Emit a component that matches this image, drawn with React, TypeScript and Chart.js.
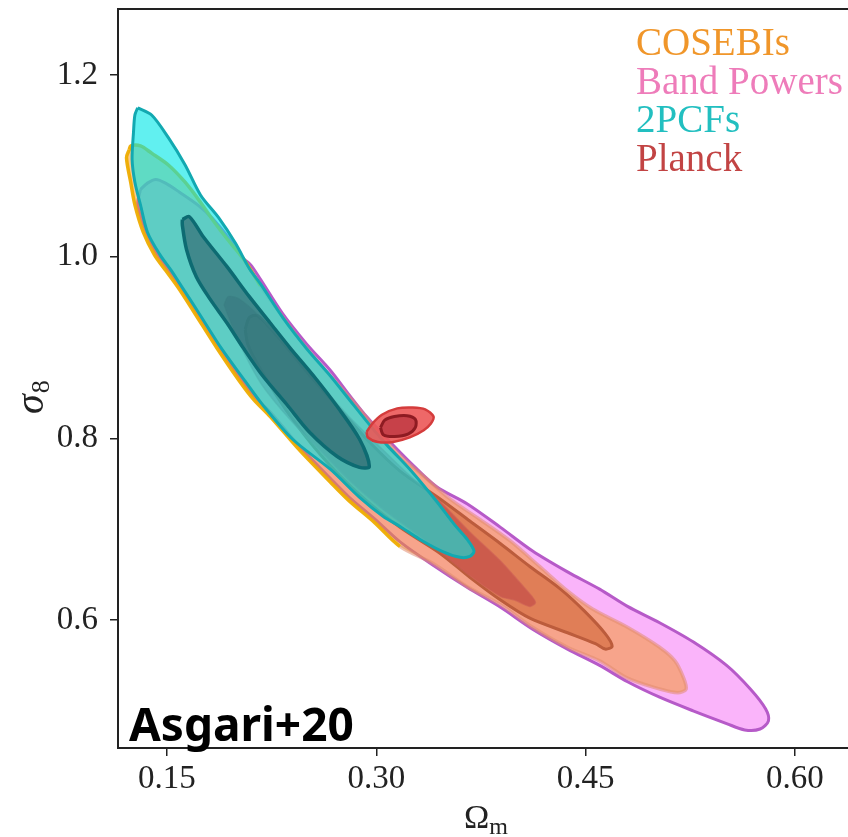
import React, { useEffect, useRef } from 'react';
import { Chart, registerables } from 'chart.js';

Chart.register(...registerables);

// ---- axis ticks / labels ----
const xTicks = [0.15, 0.3, 0.45, 0.6];
const yTicks = [0.6, 0.8, 1.0, 1.2];
const xRange = [0.1149, 0.638];
const yRange = [0.4591, 1.2727];

const legendLabels = ['COSEBIs', 'Band Powers', '2PCFs', 'Planck'];
const legendColors = ['#f0962a', '#ee7cba', '#22bfc0', '#c24444'];
const annotationText = 'Asgari+20';

// ---- contour outlines (Omega_m, sigma_8) ----
const bandPowersOuter = [
  [0.131, 1.074], [0.136, 1.081], [0.142, 1.085], [0.149, 1.081], [0.159, 1.071], [0.172, 1.057],
  [0.182, 1.043], [0.195, 1.019], [0.204, 0.999], [0.210, 0.991], [0.217, 0.975], [0.233, 0.937],
  [0.250, 0.904], [0.267, 0.875], [0.281, 0.847], [0.293, 0.824], [0.308, 0.799], [0.324, 0.774],
  [0.343, 0.747], [0.365, 0.728], [0.389, 0.702], [0.412, 0.676], [0.437, 0.653], [0.460, 0.634],
  [0.480, 0.615], [0.503, 0.597], [0.527, 0.576], [0.551, 0.550], [0.568, 0.524], [0.579, 0.502],
  [0.581, 0.489], [0.575, 0.480], [0.564, 0.479], [0.551, 0.486], [0.527, 0.500], [0.503, 0.515],
  [0.480, 0.532], [0.460, 0.550], [0.437, 0.568], [0.412, 0.590], [0.389, 0.614], [0.365, 0.636],
  [0.341, 0.660], [0.317, 0.686], [0.299, 0.711], [0.280, 0.736], [0.267, 0.756], [0.245, 0.791],
  [0.224, 0.829], [0.212, 0.847], [0.202, 0.867], [0.186, 0.903], [0.169, 0.944], [0.158, 0.970],
  [0.149, 0.990], [0.141, 1.008], [0.134, 1.032], [0.129, 1.057],
];

const bandPowersInner = [
  [0.206, 0.920], [0.209, 0.933], [0.215, 0.935], [0.231, 0.909], [0.252, 0.870], [0.274, 0.832],
  [0.295, 0.796], [0.317, 0.764], [0.346, 0.733], [0.367, 0.709], [0.389, 0.684], [0.410, 0.659],
  [0.432, 0.634], [0.449, 0.610], [0.464, 0.585], [0.469, 0.571], [0.464, 0.568], [0.457, 0.574],
  [0.437, 0.586], [0.410, 0.602], [0.389, 0.622], [0.367, 0.647], [0.346, 0.673], [0.317, 0.702],
  [0.288, 0.738], [0.260, 0.782], [0.235, 0.832], [0.217, 0.876], [0.208, 0.903],
];

const cosebisOuter = [
  [0.123, 1.118], [0.124, 1.122], [0.131, 1.122], [0.139, 1.114], [0.151, 1.101], [0.163, 1.082],
  [0.174, 1.060], [0.184, 1.038], [0.195, 1.016], [0.206, 0.995], [0.217, 0.968], [0.227, 0.946],
  [0.245, 0.909], [0.263, 0.876], [0.281, 0.845], [0.299, 0.812], [0.317, 0.781], [0.335, 0.757],
  [0.353, 0.733], [0.374, 0.711], [0.396, 0.687], [0.417, 0.659], [0.437, 0.632], [0.455, 0.612],
  [0.480, 0.592], [0.503, 0.570], [0.514, 0.555], [0.520, 0.537], [0.522, 0.524], [0.516, 0.520],
  [0.503, 0.524], [0.480, 0.536], [0.460, 0.555], [0.437, 0.570], [0.412, 0.592], [0.389, 0.617],
  [0.365, 0.637], [0.341, 0.662], [0.317, 0.681], [0.299, 0.707], [0.280, 0.732], [0.267, 0.752],
  [0.245, 0.787], [0.224, 0.824], [0.212, 0.843], [0.202, 0.863], [0.186, 0.899], [0.169, 0.940],
  [0.158, 0.966], [0.149, 0.985], [0.141, 1.002], [0.133, 1.027], [0.127, 1.057], [0.124, 1.082],
  [0.121, 1.109],
];

const cosebisInner = [
  [0.191, 0.947], [0.194, 0.956], [0.202, 0.953], [0.217, 0.933], [0.238, 0.898], [0.260, 0.859],
  [0.281, 0.823], [0.303, 0.790], [0.324, 0.759], [0.346, 0.730], [0.367, 0.697], [0.389, 0.665],
  [0.403, 0.641], [0.412, 0.625], [0.414, 0.619], [0.410, 0.615], [0.399, 0.622], [0.389, 0.626],
  [0.367, 0.649], [0.346, 0.675], [0.324, 0.700], [0.303, 0.724], [0.281, 0.753], [0.260, 0.786],
  [0.238, 0.821], [0.218, 0.859], [0.204, 0.898], [0.195, 0.931],
];

const pcfOuter = [
  [0.129, 1.164], [0.139, 1.156], [0.151, 1.131], [0.163, 1.101], [0.174, 1.068], [0.187, 1.043],
  [0.199, 1.015], [0.209, 0.987], [0.217, 0.970], [0.233, 0.933], [0.250, 0.899], [0.267, 0.869],
  [0.281, 0.842], [0.293, 0.819], [0.308, 0.792], [0.324, 0.766], [0.343, 0.731], [0.356, 0.705],
  [0.365, 0.689], [0.370, 0.676], [0.367, 0.670], [0.360, 0.669], [0.348, 0.675], [0.331, 0.689],
  [0.317, 0.703], [0.305, 0.714], [0.288, 0.735], [0.267, 0.766], [0.240, 0.799], [0.218, 0.838],
  [0.206, 0.863], [0.189, 0.899], [0.172, 0.940], [0.161, 0.966], [0.153, 0.985], [0.145, 1.002],
  [0.136, 1.027], [0.131, 1.057], [0.127, 1.082], [0.125, 1.107], [0.126, 1.137], [0.127, 1.156],
];

const pcfInner = [
  [0.161, 1.041], [0.166, 1.044], [0.176, 1.022], [0.193, 0.989], [0.209, 0.956], [0.224, 0.927],
  [0.238, 0.900], [0.256, 0.867], [0.272, 0.835], [0.288, 0.799], [0.295, 0.769], [0.288, 0.768],
  [0.272, 0.780], [0.252, 0.807], [0.236, 0.837], [0.218, 0.870], [0.204, 0.901], [0.193, 0.927],
  [0.181, 0.953], [0.171, 0.978], [0.164, 1.008], [0.161, 1.035],
];

const planckOuter = [
  [0.293, 0.807], [0.297, 0.816], [0.304, 0.826], [0.315, 0.833], [0.326, 0.834], [0.335, 0.832],
  [0.341, 0.824], [0.339, 0.816], [0.334, 0.809], [0.324, 0.801], [0.312, 0.796], [0.301, 0.796],
  [0.294, 0.801],
];

const planckInner = [
  [0.303, 0.812], [0.306, 0.820], [0.313, 0.824], [0.322, 0.825], [0.328, 0.821], [0.328, 0.812],
  [0.323, 0.805], [0.313, 0.802], [0.305, 0.804],
];

const toPoints = (pts: number[][]) => [...pts, pts[0]].map(([x, y]) => ({ x, y }));

function contour(label: string, pts: number[][], fill: string, border: string, width: number, order: number, extra: any = {}) {
  return {
    label,
    data: toPoints(pts),
    showLine: true,
    fill: false,
    contourFill: fill,
    backgroundColor: fill,
    borderColor: border,
    borderWidth: width,
    borderJoinStyle: 'round',
    pointRadius: 0,
    pointHoverRadius: 0,
    tension: 0.3,
    order,
    ...extra,
  };
}

// fills each closed outline using the line's own (scale-mapped) points and bezier control points
const contourFillPlugin = {
  id: 'contourFill',
  beforeDatasetDraw(chart: any, args: any) {
    const ds = chart.data.datasets[args.index];
    const pts = args.meta.data;
    if (!ds.contourFill || !pts || pts.length < 3) return;
    const { ctx, chartArea } = chart;
    ctx.save();
    ctx.beginPath();
    ctx.rect(chartArea.left, chartArea.top, chartArea.right - chartArea.left, chartArea.bottom - chartArea.top);
    ctx.clip();
    ctx.beginPath();
    ctx.moveTo(pts[0].x, pts[0].y);
    for (let i = 1; i < pts.length; i++) {
      const p = pts[i - 1];
      const c = pts[i];
      if (p.cp2x !== undefined && c.cp1x !== undefined) {
        ctx.bezierCurveTo(p.cp2x, p.cp2y, c.cp1x, c.cp1y, c.x, c.y);
      } else {
        ctx.lineTo(c.x, c.y);
      }
    }
    ctx.closePath();
    ctx.fillStyle = ds.contourFill;
    ctx.fill();
    ctx.restore();
  },
};

const overlayPlugin = {
  id: 'overlay',
  afterDraw(chart: any) {
    const { ctx, chartArea } = chart;
    ctx.save();
    // top spine
    ctx.strokeStyle = '#222';
    ctx.lineWidth = 2;
    ctx.beginPath();
    ctx.moveTo(chartArea.left - 1, chartArea.top);
    ctx.lineTo(chartArea.right, chartArea.top);
    ctx.stroke();

    // legend (coloured text)
    ctx.font = '39px "Liberation Serif"';
    ctx.textAlign = 'left';
    ctx.textBaseline = 'alphabetic';
    legendLabels.forEach((t, i) => {
      ctx.fillStyle = legendColors[i];
      ctx.fillText(t, 636, 55 + i * 38.7);
    });

    // annotation
    ctx.fillStyle = '#000';
    ctx.font = 'bold 46px "Noto Sans"';
    ctx.fillText(annotationText, 129, 741);

    // x title: Omega_m
    ctx.fillStyle = '#222';
    ctx.font = '34px "Liberation Serif"';
    const wO = ctx.measureText('Ω').width;
    ctx.fillText('Ω', 464, 828);
    ctx.font = '24px "Liberation Serif"';
    ctx.fillText('m', 464 + wO, 834);

    // y title: sigma_8
    ctx.translate(43, 414);
    ctx.rotate(-Math.PI / 2);
    ctx.font = 'italic 40px "Liberation Serif"';
    const wS = ctx.measureText('σ').width;
    ctx.fillText('σ', 0, 0);
    ctx.font = '26px "Liberation Serif"';
    ctx.fillText('8', wS + 1, 6);
    ctx.restore();
  },
};

export default function App() {
  const ref = useRef<HTMLCanvasElement>(null);

  useEffect(() => {
    if (!ref.current) return;
    const gold = 'rgba(238,172,0,0.95)';
    const softEdge = 'rgba(226,140,112,0.55)';
    const chart = new Chart(ref.current, {
      type: 'scatter',
      data: {
        datasets: [
          contour('Planck 68%', planckInner, 'rgba(195,62,70,0.92)', '#8e1b22', 3, 1),
          contour('Planck 95%', planckOuter, 'rgba(236,88,88,0.9)', '#d43c3c', 2.5, 2),
          contour('2PCFs 68%', pcfInner, 'rgba(40,80,92,0.55)', '#0d6b72', 3.5, 3),
          contour('2PCFs 95%', pcfOuter, 'rgba(0,230,230,0.62)', '#12a9b1', 3, 4),
          contour('COSEBIs 68%', cosebisInner, 'rgba(175,40,60,0.4)', 'rgba(205,95,85,0.6)', 1.5, 5),
          contour('COSEBIs 95%', cosebisOuter, 'rgba(246,150,30,0.5)', gold, 3.5, 6, {
            segment: {
              borderColor: (c: any) => (c.p0DataIndex <= 9 || c.p0DataIndex >= 38 ? gold : softEdge),
            },
          }),
          contour('Band Powers 68%', bandPowersInner, 'rgba(170,50,75,0.6)', '#82225a', 3, 7),
          contour('Band Powers 95%', bandPowersOuter, 'rgba(248,140,248,0.65)', '#b65ac8', 3, 8),
        ],
      },
      plugins: [contourFillPlugin, overlayPlugin],
      options: {
        animation: false,
        responsive: false,
        devicePixelRatio: 1,
        layout: { padding: { top: 9, left: 0, right: 0, bottom: 0 } },
        plugins: {
          legend: { display: false },
          tooltip: { enabled: false },
          title: { display: false },
        },
        scales: {
          x: {
            type: 'linear',
            min: xRange[0],
            max: xRange[1],
            afterBuildTicks: (s: any) => {
              s.ticks = xTicks.map((v) => ({ value: v }));
            },
            afterFit: (s: any) => {
              s.height = 89;
              s.paddingLeft = 0;
              s.paddingRight = 0;
            },
            ticks: {
              callback: (v: any) => Number(v).toFixed(2),
              font: { family: 'Liberation Serif', size: 33 },
              color: '#222',
              padding: 4,
              maxRotation: 0,
            },
            grid: { drawOnChartArea: false, drawTicks: true, tickLength: 8, color: '#222', lineWidth: 1.5 },
            border: { display: true, color: '#222', width: 2 },
          },
          y: {
            type: 'linear',
            min: yRange[0],
            max: yRange[1],
            afterBuildTicks: (s: any) => {
              s.ticks = yTicks.map((v) => ({ value: v }));
            },
            afterFit: (s: any) => {
              s.width = 118;
              s.paddingTop = 0;
              s.paddingBottom = 0;
            },
            ticks: {
              callback: (v: any) => Number(v).toFixed(1),
              font: { family: 'Liberation Serif', size: 33 },
              color: '#222',
              padding: 12,
            },
            grid: { drawOnChartArea: false, drawTicks: true, tickLength: 8, color: '#222', lineWidth: 1.5 },
            border: { display: true, color: '#222', width: 2 },
          },
        },
      } as any,
    } as any);
    return () => chart.destroy();
  }, []);

  return (
    <div style={{ position: 'absolute', left: 0, top: 0, width: 848, height: 837, background: '#fff' }}>
      <canvas ref={ref} width={848} height={837} style={{ display: 'block' }} />
    </div>
  );
}
